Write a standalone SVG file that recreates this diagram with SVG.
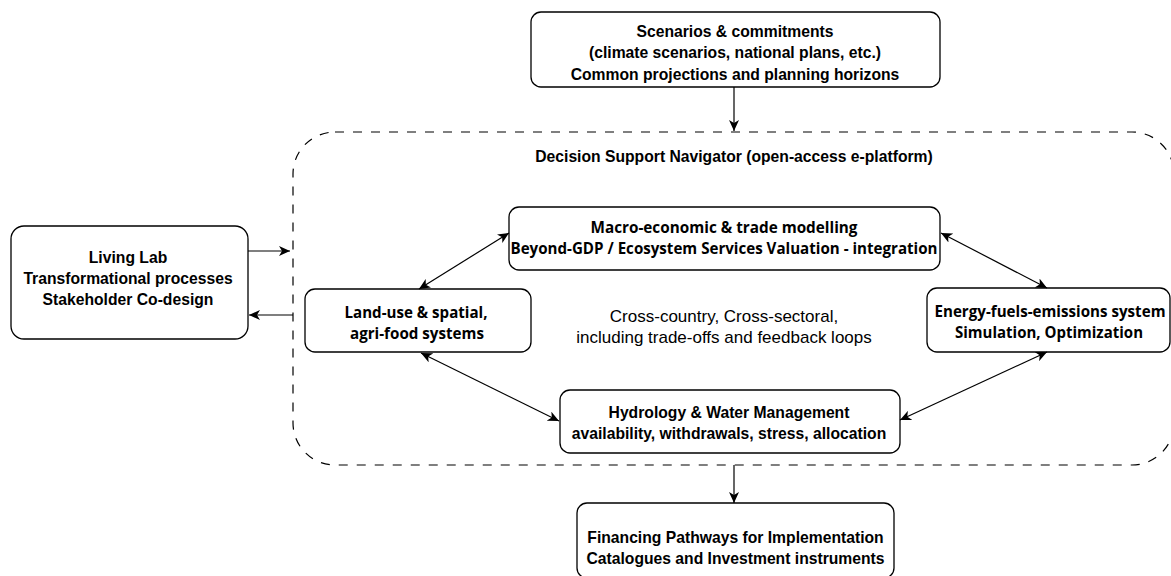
<svg xmlns="http://www.w3.org/2000/svg" width="1171" height="576" viewBox="0 0 1171 576">
  <style>
    .box { fill: #ffffff; stroke: #000000; stroke-width: 1.3; }
    .frame { fill: none; stroke: #000000; stroke-width: 1.2; stroke-dasharray: 9 9; }
    .ar { font-family: "Liberation Sans", Arial, sans-serif; font-weight: bold; font-size: 15.7px; fill: #000000; text-anchor: middle; }
    .se { font-family: "Open Sans", "Noto Sans", sans-serif; font-weight: bold; font-size: 15.4px; fill: #000000; text-anchor: middle; }
    .rg { font-family: "Liberation Sans", Arial, sans-serif; font-size: 17px; fill: #000000; text-anchor: middle; }
    .edge { fill: none; stroke: #000000; stroke-width: 1.2; }
  </style>
  <defs>
    <marker id="arr" viewBox="0 0 12 10" refX="11" refY="5" markerWidth="12" markerHeight="10" markerUnits="userSpaceOnUse" orient="auto-start-reverse">
      <path d="M0,0 L11,5 L0,10 L3,5 Z" fill="#000000"/>
    </marker>
  </defs>
  <rect width="1171" height="576" fill="#ffffff"/>

  <g id="platform">
    <rect class="frame" x="293" y="132" width="881" height="333" rx="42" ry="42"/>
    <text class="ar" x="734" y="162">Decision Support Navigator (open-access e-platform)</text>
    <text class="rg" x="724" y="321.5">Cross-country, Cross-sectoral,</text>
    <text class="rg" x="724" y="342.5">including trade-offs and feedback loops</text>
  </g>

  <g id="scenarios">
    <rect class="box" x="531" y="12" width="409" height="75" rx="10"/>
    <text class="ar" x="735" y="36.5">Scenarios &amp; commitments</text>
    <text class="ar" x="735" y="58">(climate scenarios, national plans, etc.)</text>
    <text class="ar" x="735" y="79.5">Common projections and planning horizons</text>
  </g>

  <g id="living-lab">
    <rect class="box" x="11" y="226" width="237" height="113" rx="13"/>
    <text class="ar" x="128" y="263">Living Lab</text>
    <text class="ar" x="128" y="284">Transformational processes</text>
    <text class="ar" x="128" y="305">Stakeholder Co-design</text>
  </g>

  <g id="macro">
    <rect class="box" x="509" y="207" width="431" height="63" rx="10"/>
    <text class="se" x="724" y="232.5" textLength="267" lengthAdjust="spacingAndGlyphs">Macro-economic &amp; trade modelling</text>
    <text class="se" x="724" y="254" textLength="427" lengthAdjust="spacingAndGlyphs">Beyond-GDP / Ecosystem Services Valuation - integration</text>
  </g>

  <g id="land-use">
    <rect class="box" x="305" y="289" width="226" height="63" rx="10"/>
    <text class="se" x="416" y="317.5" textLength="143" lengthAdjust="spacingAndGlyphs">Land-use &amp; spatial,</text>
    <text class="se" x="417" y="338.5" textLength="134" lengthAdjust="spacingAndGlyphs">agri-food systems</text>
  </g>

  <g id="energy">
    <rect class="box" x="927" y="288" width="243" height="64" rx="10"/>
    <text class="se" x="1050" y="317.3" textLength="231" lengthAdjust="spacingAndGlyphs">Energy-fuels-emissions system</text>
    <text class="se" x="1049" y="338.3" textLength="188" lengthAdjust="spacingAndGlyphs">Simulation, Optimization</text>
  </g>

  <g id="hydrology">
    <rect class="box" x="560" y="390" width="340" height="63" rx="10"/>
    <text class="ar" x="729" y="417.5">Hydrology &amp; Water Management</text>
    <text class="ar" x="729" y="439">availability, withdrawals, stress, allocation</text>
  </g>

  <g id="financing">
    <rect class="box" x="577" y="503" width="317" height="75" rx="10"/>
    <text class="ar" x="735.5" y="542.7">Financing Pathways for Implementation</text>
    <text class="ar" x="735.5" y="564.3">Catalogues and Investment instruments</text>
  </g>

  <g id="connectors">
    <line class="edge" x1="734" y1="87" x2="734" y2="131" marker-end="url(#arr)"/>
    <line class="edge" x1="248" y1="251" x2="290" y2="251" marker-end="url(#arr)"/>
    <line class="edge" x1="293" y1="315" x2="249" y2="315" marker-end="url(#arr)"/>
    <line class="edge" x1="734" y1="465" x2="734" y2="503" marker-end="url(#arr)"/>
    <line class="edge" x1="509" y1="233" x2="419" y2="289" marker-start="url(#arr)" marker-end="url(#arr)"/>
    <line class="edge" x1="941" y1="233" x2="1047" y2="288" marker-start="url(#arr)" marker-end="url(#arr)"/>
    <line class="edge" x1="421" y1="353" x2="559" y2="421" marker-start="url(#arr)" marker-end="url(#arr)"/>
    <line class="edge" x1="1047" y1="352" x2="900" y2="420" marker-start="url(#arr)" marker-end="url(#arr)"/>
  </g>
</svg>
